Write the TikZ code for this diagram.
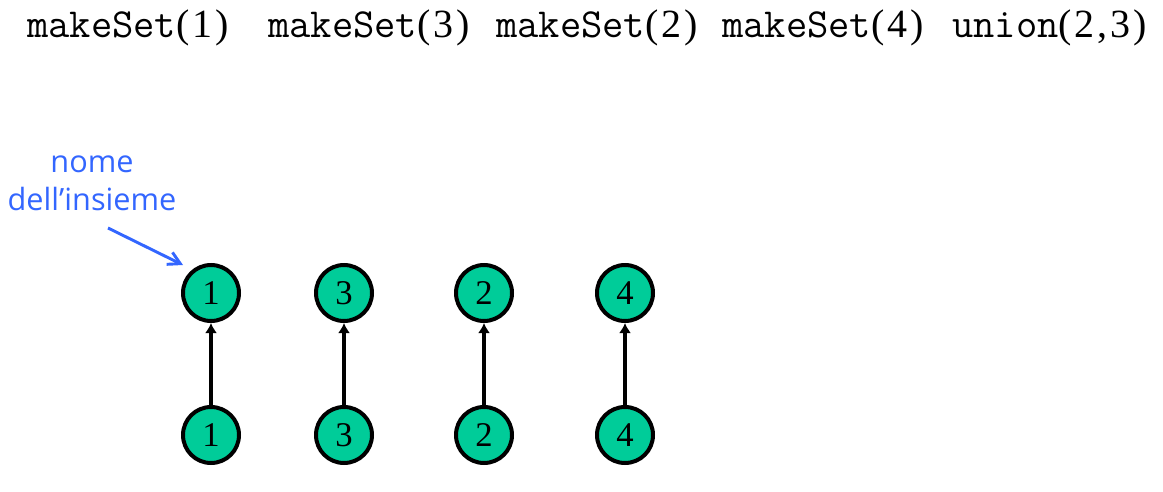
\documentclass[tikz,border=0pt]{standalone}
\usepackage{fontspec}
\setmainfont{Liberation Serif}
\newfontfamily\notefont{Open Sans}
\newfontfamily\argfont[LetterSpace=7]{Liberation Serif}
\usetikzlibrary{arrows,arrows.meta,positioning}
\definecolor{setgreen}{RGB}{0,204,153}
\definecolor{noteblue}{RGB}{51,102,255}
\newcommand{\op}[2]{{\fontsize{31}{36}\ttfamily #1}{\fontsize{30}{36}\argfont #2}}

\begin{document}
\begin{tikzpicture}[
x=0.75pt, y=-0.75pt,
setnode/.style={
  draw,
  circle,
  fill=setgreen,
  line width=3pt,
  minimum size=42pt,
  inner sep=0pt,
  font=\fontsize{26}{30}\rmfamily
  },
call/.style={
  anchor=base west,
  inner sep=0pt
  },
note/.style={
  align=center,
  text=noteblue,
  inner sep=0pt,
  font=\fontsize{23}{28.5}\notefont
  },
>={Latex[length=7.5pt,width=9pt]}
]
\useasboundingbox (0,0) rectangle (1163,492);

% operazioni
\node[call] at (27,38) (c1) {\op{makeSet}{(1)}};
\node[call] at (268,38) (c2) {\op{makeSet}{(3)}};
\node[call] at (496,38) (c3) {\op{makeSet}{(2)}};
\node[call] at (722,38) (c4) {\op{makeSet}{(4)}};
\node[call] at (952,38) (c5) {\op{union}{(2,3)}};

% insiemi
\foreach \v/\x in {1/211,3/344,2/484,4/625}
{
  \node[setnode] at (\x,293) (top\v) {\v};
  \node[setnode] at (\x,435) (bot\v) {\v};
  \draw[->, line width=2.4pt] (bot\v) -- (top\v);
}

% nome dell'insieme
\node[note] at (92,183) (name) {nome\\dell’insieme};
\coordinate (from) at (108,228);
\coordinate (to) at (183,265);
\draw[-{Straight Barb[length=9pt,width=10pt]}, noteblue, line width=2.2pt] (from) -- (to);

\end{tikzpicture}
\end{document}
